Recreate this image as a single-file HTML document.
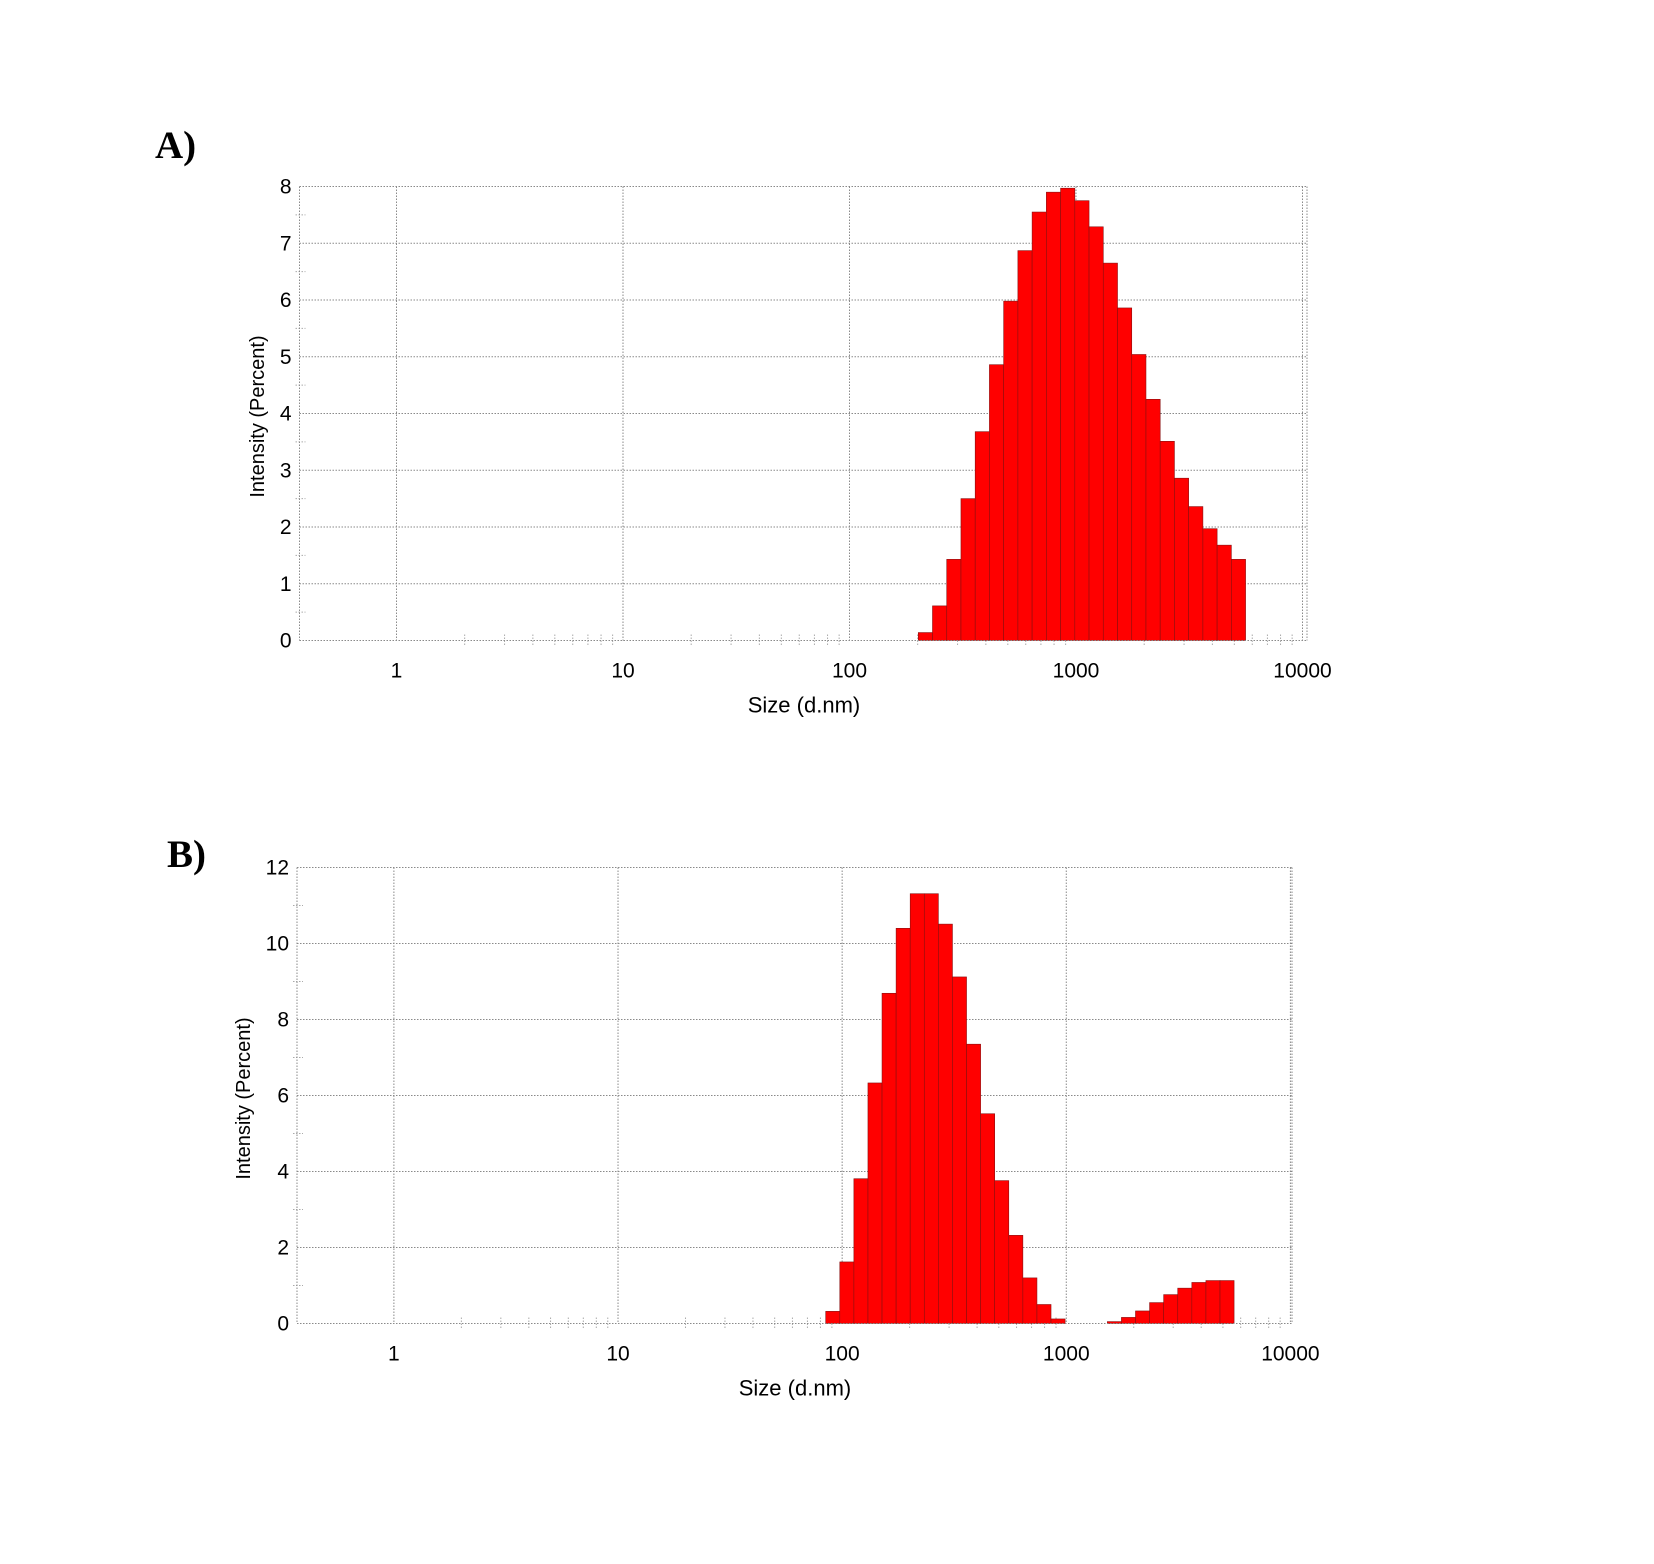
<!DOCTYPE html>
<html><head><meta charset="utf-8">
<style>
html,body{margin:0;padding:0;background:#fff;}
svg{display:block;}
text{font-family:"Liberation Sans Narrow","Liberation Sans",Arial,sans-serif;fill:#000;}
.lbl{font-family:"Liberation Serif","Times New Roman",serif;font-weight:bold;font-size:39px;}
</style></head>
<body>
<svg id="root" width="1654" height="1564" viewBox="0 0 1654 1564" xmlns="http://www.w3.org/2000/svg">
<text class="lbl" x="155" y="158">A)</text>
<text class="lbl" x="167" y="867">B)</text>
</svg>
<script>
// Shared bin definition: Malvern 70 log bins from 0.4 to 10000 nm
var binCount = 70;
var binMin = 0.4, binMax = 10000;
// Panel A data
var aStartBin = 43;
var aValues = [0.14,0.61,1.43,2.5,3.68,4.86,5.98,6.87,7.55,7.9,7.97,7.75,7.29,6.65,5.86,5.04,4.25,3.51,2.86,2.36,1.97,1.68,1.43];
var aYTicks = [0,1,2,3,4,5,6,7,8];
// Panel B data
var bStartBin = 37;
var bValues = [0.32,1.62,3.81,6.33,8.69,10.4,11.31,11.31,10.51,9.12,7.35,5.52,3.76,2.32,1.2,0.5,0.12,0,0,0,0.05,0.16,0.33,0.55,0.76,0.93,1.08,1.13,1.13];
var bYTicks = [0,2,4,6,8,10,12];
var xTickLabels = ["1","10","100","1000","10000"];
var xTickValues = [1,10,100,1000,10000];

var NS = "http://www.w3.org/2000/svg";
var root = document.getElementById('root');
function mk(tag, attrs, parent){
  var e = document.createElementNS(NS, tag);
  for (var k in attrs) e.setAttribute(k, attrs[k]);
  (parent||root).appendChild(e);
  return e;
}

function drawPanel(cfg){
  var g = mk('g', {});
  
  
  var decW = (cfg.x10000 - cfg.x1) / 4;
  function xs(v){ return cfg.x1 + Math.log10(v) * decW; }
  function ys(v){ return cfg.y0 - (v / cfg.yMax) * (cfg.y0 - cfg.yTop); }
  var grid = '#8a8a8a';
  // horizontal gridlines + y labels
  cfg.yTicks.forEach(function(t){
    var y = ys(t);
    var l = mk('line', {x1:cfg.left, x2:cfg.right, y1:y, y2:y, stroke:grid, 'stroke-width':1, 'stroke-dasharray':'1.5,1.5'}, g);
    
    
    var tx = mk('text', {x:cfg.left-8, y:y+7, 'text-anchor':'end', 'font-size':21}, g);
    tx.textContent = t;
    
    
  });
  // y minor ticks
  for (var i = 0; i < cfg.yTicks.length - 1; i++){
    var ym = ys((cfg.yTicks[i] + cfg.yTicks[i+1]) / 2);
    var mt = mk('line', {x1:cfg.left-4, x2:cfg.left+6, y1:ym, y2:ym, stroke:'#aaa', 'stroke-width':1, 'stroke-dasharray':'1.5,1.5'}, g);
    
    
  }
  // vertical axis lines
  [cfg.left, cfg.right].forEach(function(x){
    var l = mk('line', {x1:x, x2:x, y1:cfg.yTop, y2:cfg.y0, stroke:grid, 'stroke-width':1, 'stroke-dasharray':'1.5,1.5'}, g);
    
    
  });
  // decade gridlines + labels
  xTickValues.forEach(function(v, idx){
    var x = xs(v);
    var l = mk('line', {x1:x, x2:x, y1:cfg.yTop, y2:cfg.y0, stroke:grid, 'stroke-width':1, 'stroke-dasharray':'1.5,1.5'}, g);
    
    
    var tx = mk('text', {x:x, y:cfg.y0+37, 'text-anchor':'middle', 'font-size':21}, g);
    tx.textContent = xTickLabels[idx];
    
    
  });
  // x minor ticks
  for (var d = 0; d < 4; d++){
    for (var m = 2; m <= 9; m++){
      var xv = xs(m * Math.pow(10, d));
      var mt2 = mk('line', {x1:xv, x2:xv, y1:cfg.y0-6, y2:cfg.y0+6, stroke:'#aaa', 'stroke-width':1, 'stroke-dasharray':'1.5,1.5'}, g);
      
      
    }
  }
  // bars
  var lw = Math.log10(binMax / binMin) / binCount;
  cfg.values.forEach(function(v, i){
    if (v <= 0) return;
    var k = cfg.startBin + i;
    var lo = binMin * Math.pow(10, k * lw), hi = binMin * Math.pow(10, (k+1) * lw);
    var x0 = xs(lo), x1 = xs(hi), y = ys(v);
    var r = mk('rect', {x:x0, y:y, width:x1-x0, height:cfg.y0-y, fill:'#ff0000', stroke:'#8a1010', 'stroke-width':0.6}, g);
    
    
  });
  // bottom axis line on top
  var bl = mk('line', {x1:cfg.left, x2:cfg.right, y1:cfg.y0, y2:cfg.y0, stroke:grid, 'stroke-width':1, 'stroke-dasharray':'1.5,1.5'}, g);
  
  
  // titles
  var xt = mk('text', {x:cfg.xTitleX, y:cfg.y0+72, 'text-anchor':'middle', 'font-size':22}, g);
  xt.textContent = 'Size (d.nm)';
  
  
  var yc = (cfg.yTop + cfg.y0) / 2 + 3;
  var yt = mk('text', {x:cfg.yTitleX, y:yc, 'text-anchor':'middle', 'font-size':20, 'font-family':'Liberation Sans, sans-serif', transform:'rotate(-90 '+cfg.yTitleX+' '+yc+')'}, g);
  yt.textContent = 'Intensity (Percent)';
  
  
}

drawPanel({name:'chart-a', left:299.5, right:1307, x1:396.5, x10000:1302.5, yTop:186.5, y0:640.5, yMax:8, yTicks:aYTicks, values:aValues, startBin:aStartBin, xTitleX:804, yTitleX:264});
drawPanel({name:'chart-b', left:297, right:1292, x1:393.9, x10000:1290.4, yTop:867.5, y0:1323.5, yMax:12, yTicks:bYTicks, values:bValues, startBin:bStartBin, xTitleX:795, yTitleX:250});
</script>
</body></html>
